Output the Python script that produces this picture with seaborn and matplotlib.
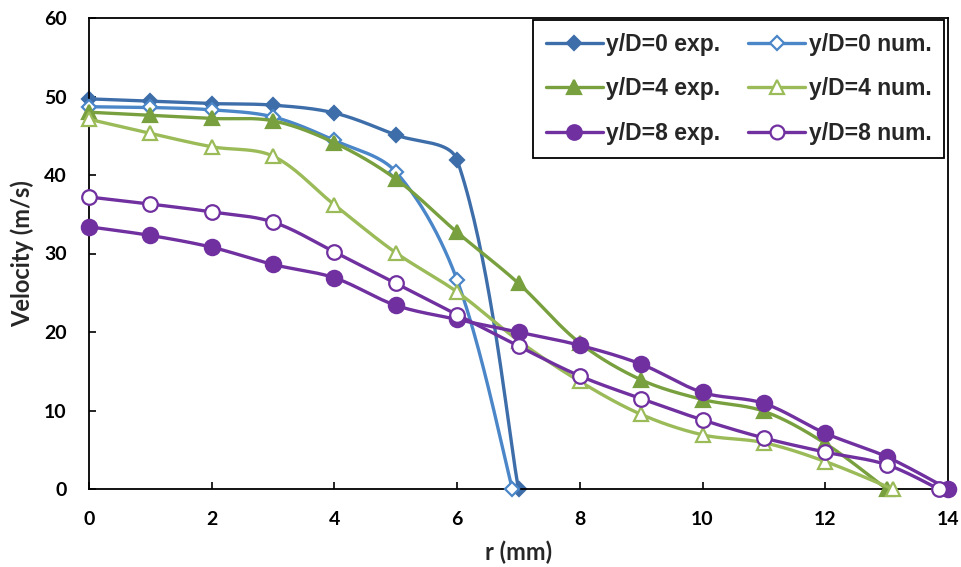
import numpy as np
import matplotlib
matplotlib.use("Agg")
import matplotlib.pyplot as plt
from matplotlib.lines import Line2D
import seaborn as sns

# ---- data ----
r_exp0 = [0, 1, 2, 3, 4, 5, 6, 7]
v_exp0 = [49.7, 49.4, 49.1, 48.9, 47.9, 45.1, 41.9, 0.0]
r_num0 = [0, 1, 2, 3, 4, 5, 6, 6.9]
v_num0 = [48.7, 48.6, 48.3, 47.4, 44.4, 40.4, 26.6, 0.0]
r_exp4 = [0, 1, 2, 3, 4, 5, 6, 7, 8, 9, 10, 11, 12, 13]
v_exp4 = [48.0, 47.6, 47.2, 46.9, 44.1, 39.5, 32.7, 26.2, 18.6, 13.9, 11.4, 9.9, 5.8, 0.0]
r_num4 = [0, 1, 2, 3, 4, 5, 6, 7, 8, 9, 10, 11, 12, 13.1]
v_num4 = [47.1, 45.3, 43.6, 42.4, 36.2, 30.1, 25.1, 18.9, 13.7, 9.5, 6.9, 5.9, 3.5, 0.0]
r_exp8 = [0, 1, 2, 3, 4, 5, 6, 7, 8, 9, 10, 11, 12, 13, 14]
v_exp8 = [33.4, 32.3, 30.8, 28.6, 26.9, 23.4, 21.6, 20.0, 18.3, 15.9, 12.3, 10.9, 7.1, 4.1, 0.0]
r_num8 = [0, 1, 2, 3, 4, 5, 6, 7, 8, 9, 10, 11, 12, 13, 13.85]
v_num8 = [37.2, 36.3, 35.3, 34.0, 30.2, 26.2, 22.2, 18.2, 14.4, 11.5, 8.8, 6.5, 4.7, 3.1, 0.0]

labels = ["y/D=0 exp.", "y/D=0 num.", "y/D=4 exp.", "y/D=4 num.", "y/D=8 exp.", "y/D=8 num."]
x_ticks = [0, 2, 4, 6, 8, 10, 12, 14]
y_ticks = [0, 10, 20, 30, 40, 50, 60]

# ---- styles ----
c_b1, c_b2 = "#3E6EAA", "#4A86C8"
c_g1, c_g2 = "#78A03E", "#9BBB59"
c_p = "#7030A0"

series = [
    (r_exp0, v_exp0, c_b1, "D", 7.2, True),
    (r_num0, v_num0, c_b2, "D", 7.2, False),
    (r_exp4, v_exp4, c_g1, "^", 10.5, True),
    (r_num4, v_num4, c_g2, "^", 10.5, False),
    (r_exp8, v_exp8, c_p, "o", 11, True),
    (r_num8, v_num8, c_p, "o", 10.5, False),
]

sns.set_theme(style="white")
plt.rcParams["font.family"] = ["Lato", "DejaVu Sans"]

fig = plt.figure(figsize=(9.61, 5.67), dpi=100)
ax = fig.add_axes([89 / 961, 1 - 489 / 567, (948 - 89) / 961, (489 - 18) / 567])

SX, SY = 61.36, 7.85  # pixel per data unit, used for Excel-like smoothing


def smooth(xs, ys, n=40):
    p = np.column_stack([np.asarray(xs, float) * SX, np.asarray(ys, float) * SY])
    pts = []
    m = len(p)
    for i in range(m - 1):
        p0 = p[i - 1] if i > 0 else p[i]
        p1, p2 = p[i], p[i + 1]
        p3 = p[i + 2] if i + 2 < m else p[i + 1]
        d01 = np.linalg.norm(p1 - p0)
        d12 = np.linalg.norm(p2 - p1)
        d23 = np.linalg.norm(p3 - p2)
        f1 = d12 / (d01 + d12) / 3.0 if d01 > 0 else 1 / 6.0
        f2 = d12 / (d12 + d23) / 3.0 if d23 > 0 else 1 / 6.0
        c1 = p1 + (p2 - p0) * f1
        c2 = p2 - (p3 - p1) * f2
        t = np.linspace(0, 1, n)[:, None]
        seg = ((1 - t) ** 3) * p1 + 3 * ((1 - t) ** 2) * t * c1 + 3 * (1 - t) * t ** 2 * c2 + t ** 3 * p2
        pts.append(seg if i == 0 else seg[1:])
    pts = np.vstack(pts)
    return pts[:, 0] / SX, pts[:, 1] / SY


handles = []
for k, (xs, ys, col, mk, ms, filled) in enumerate(series):
    sx, sy = smooth(xs, ys)
    sns.lineplot(x=sx, y=sy, sort=False, estimator=None, color=col, lw=2.4, ax=ax,
                 zorder=2 + k, clip_on=False)
    ax.plot(xs, ys, ls="none", marker=mk, ms=ms, mfc=col if filled else "white",
            mec=col, mew=1.6, zorder=2 + k, clip_on=False)
    handles.append(Line2D([], [], color=col, lw=2.4, marker=mk, ms=ms * 0.95,
                          mfc=col if filled else "white", mec=col, mew=1.6))

ax.set_xlim(0, 14)
ax.set_ylim(0, 60)
ax.set_xticks(x_ticks)
ax.set_yticks(y_ticks)
ax.tick_params(direction="in", length=5, width=1.2, pad=16, labelsize=14,
               left=True, bottom=True, colors="black")
for lab in ax.get_xticklabels() + ax.get_yticklabels():
    lab.set_fontweight("bold")
for s in ax.spines.values():
    s.set_visible(True)
    s.set_color("black")
    s.set_linewidth(1.3)

ax.set_xlabel("r (mm)", fontsize=17, fontweight="bold")
ax.set_ylabel("Velocity (m/s)", fontsize=17, fontweight="bold")
ax.xaxis.set_label_coords(0.5, -0.11)
ax.yaxis.set_label_coords(-0.064, 0.5)

order = [0, 2, 4, 1, 3, 5]
leg = ax.legend([handles[i] for i in order], [labels[i] for i in order],
                ncol=2, loc="upper right", bbox_to_anchor=(944 / 961, 1 - 20 / 567),
                bbox_transform=fig.transFigure, borderaxespad=0, frameon=True,
                fancybox=False, edgecolor="black", framealpha=1,
                prop={"family": "Liberation Sans", "weight": "bold", "size": 16.5},
                handlelength=2.5, handletextpad=0.15, columnspacing=1.2,
                labelspacing=0.95, borderpad=0.55)
leg.get_frame().set_linewidth(1.3)
leg.set_zorder(20)

fig.savefig("out.png", dpi=100)
